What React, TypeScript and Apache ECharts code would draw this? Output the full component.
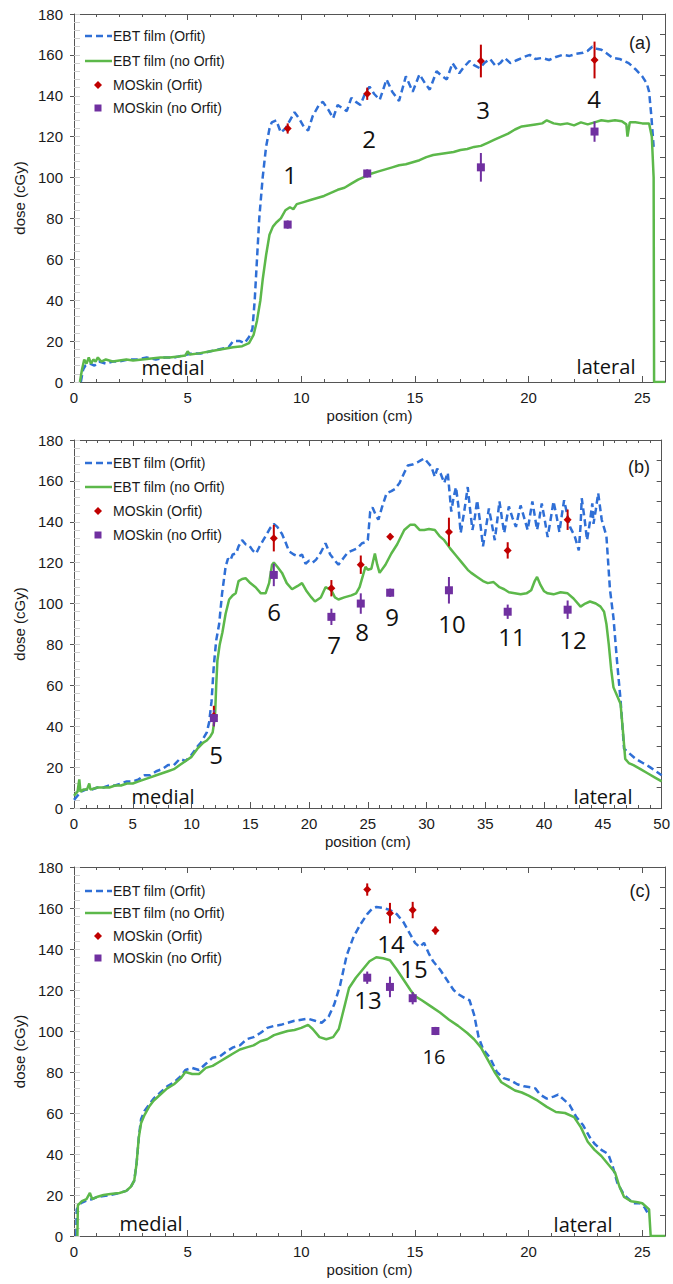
import React, { useEffect, useRef } from "react";
import * as echarts from "echarts";

type Pt = [number, number];

// ---------- Panel (a) ----------
const aFilmOrfit: Pt[] = [
  [0.3, 0], [0.4, 6], [0.5, 8], [0.7, 9], [0.9, 8], [1.1, 10], [1.4, 9], [1.7, 10], [2.0, 10], [2.4, 11],
  [2.8, 11], [3.2, 12], [3.6, 11], [4.0, 12], [4.4, 12], [4.8, 13], [5.2, 14], [5.6, 14], [6.0, 15], [6.4, 16],
  [6.8, 17], [7.0, 20], [7.3, 20], [7.5, 19], [7.7, 22], [7.85, 26], [7.95, 40], [8.05, 60], [8.15, 80], [8.3, 100],
  [8.45, 115], [8.6, 124], [8.7, 127], [8.9, 128], [9.1, 122], [9.3, 124], [9.5, 128], [9.7, 132], [9.9, 129], [10.1, 125],
  [10.3, 123], [10.5, 130], [10.8, 136], [10.95, 137], [11.2, 133], [11.4, 129], [11.6, 135.5], [11.8, 134], [12.0, 132.5], [12.2, 139],
  [12.4, 137], [12.6, 135.5], [12.8, 141], [13.0, 144.5], [13.2, 141], [13.45, 138], [13.75, 148], [14.0, 142], [14.3, 137.5], [14.6, 149.5],
  [14.9, 142], [15.2, 150.5], [15.45, 146], [15.65, 143], [15.95, 152], [16.15, 150], [16.4, 148], [16.65, 156], [16.95, 151], [17.15, 154],
  [17.4, 157], [17.6, 155], [17.85, 153.5], [18.05, 156], [18.3, 158], [18.55, 154.5], [18.75, 156], [18.95, 158.5], [19.2, 156], [19.5, 157.5],
  [19.8, 159], [20.05, 160], [20.3, 158], [20.6, 158.5], [20.9, 157.5], [21.2, 159], [21.5, 160], [21.8, 159.5], [22.1, 160.5], [22.4, 161],
  [22.6, 162], [22.8, 164], [23.0, 163], [23.2, 162.5], [23.4, 161], [23.7, 158.5], [24.0, 158], [24.4, 156], [24.7, 153], [25.0, 149.5],
  [25.2, 146], [25.3, 142], [25.4, 130], [25.5, 115]
];
const aFilmNoOrfit: Pt[] = [
  [0.26, 0], [0.35, 6], [0.45, 11], [0.55, 9], [0.65, 12], [0.75, 9], [0.85, 11], [0.95, 10], [1.05, 12], [1.2, 10],
  [1.4, 11], [1.7, 10], [2.0, 10.5], [2.3, 11], [2.6, 10.5], [3.0, 11], [3.4, 11.5], [3.8, 12], [4.2, 12], [4.6, 12.5],
  [4.9, 13], [5.0, 15], [5.1, 13.5], [5.5, 14], [6.0, 15], [6.5, 16], [7.0, 17], [7.4, 17.5], [7.7, 19], [7.9, 23],
  [8.05, 30], [8.2, 40], [8.3, 50], [8.45, 62], [8.6, 72], [8.75, 76], [8.9, 78], [9.1, 80], [9.3, 84], [9.5, 85.5],
  [9.65, 84.5], [9.8, 87], [10.1, 88], [10.4, 89], [10.7, 90], [11.0, 91], [11.3, 92.5], [11.6, 94], [11.9, 95], [12.2, 97],
  [12.5, 99], [12.8, 100.5], [13.1, 102], [13.4, 103], [13.7, 104], [14.0, 105], [14.3, 106], [14.6, 106.5], [14.9, 107.5], [15.2, 108.5],
  [15.5, 110], [15.8, 111], [16.1, 111.5], [16.4, 112], [16.7, 112.5], [17.0, 113.5], [17.3, 114], [17.6, 115], [17.9, 115.5], [18.2, 117],
  [18.5, 118.5], [18.8, 120], [19.1, 121.5], [19.4, 123.5], [19.7, 125], [20.0, 125.5], [20.3, 126], [20.6, 126.5], [20.8, 128], [21.1, 126.5],
  [21.4, 126], [21.7, 126.5], [22.0, 125.5], [22.3, 127], [22.6, 126], [22.9, 127], [23.2, 128], [23.5, 127.5], [23.8, 128], [24.1, 127.5],
  [24.3, 126], [24.35, 120], [24.45, 127], [24.7, 127], [25.0, 126.5], [25.3, 126.5], [25.42, 120], [25.5, 100], [25.52, 0], [26, 0]
];
const aMosX = [9.4, 12.9, 17.9, 22.9];
const aMosOrfit = [124, 141, 157, 157.5];
const aMosOrfitErr = [2.5, 3, 8, 9];
const aMosNoOrfit = [77, 102, 105, 122.5];
const aMosNoOrfitErr = [2, 2, 7, 5];

// ---------- Panel (b) ----------
const bFilmOrfit: Pt[] = [
  [0, 4], [0.3, 6], [0.6, 8], [1.0, 9], [1.5, 9], [2.0, 10], [2.5, 10], [3.0, 11], [3.5, 11], [4.0, 12],
  [4.5, 13], [5.0, 13], [5.5, 14], [6.0, 16], [6.5, 16], [7.0, 18], [7.5, 19], [8.0, 21], [8.5, 21], [9.0, 24],
  [9.5, 23], [10.0, 26], [10.5, 30], [10.8, 32], [11.0, 34], [11.3, 37], [11.5, 42], [11.7, 52], [11.9, 70], [12.1, 82],
  [12.35, 90], [12.6, 105], [12.9, 118], [13.1, 122], [13.3, 121], [13.5, 124], [13.8, 124.5], [14.0, 128], [14.3, 131], [14.6, 129],
  [14.9, 128.5], [15.2, 126], [15.5, 124.5], [15.8, 128], [16.1, 131], [16.4, 134], [16.7, 137], [17.0, 139], [17.3, 137.5], [17.7, 134],
  [18.0, 130], [18.3, 125.5], [18.7, 124], [19.1, 123], [19.4, 124], [19.7, 119.5], [20.0, 121], [20.3, 120], [20.6, 121.5], [21.0, 125],
  [21.4, 129.5], [21.8, 124], [22.2, 121], [22.5, 119], [22.9, 122], [23.3, 125], [23.7, 126], [24.1, 127], [24.5, 129.5], [24.8, 130],
  [25.0, 131], [25.2, 145], [25.4, 147], [25.7, 143], [25.9, 141], [26.2, 147], [26.6, 154], [27.0, 155], [27.3, 156], [27.7, 159],
  [28.1, 164], [28.4, 167.5], [28.8, 168], [29.2, 169], [29.5, 170], [29.8, 171], [30.1, 169], [30.4, 167], [30.7, 162], [30.9, 166],
  [31.2, 163.5], [31.5, 159], [31.8, 164], [32.1, 145], [32.3, 152], [32.5, 157], [32.7, 148], [32.9, 134.5], [33.2, 145], [33.5, 157],
  [33.7, 146], [33.9, 136], [34.1, 142], [34.3, 150.5], [34.55, 140], [34.8, 128], [35.05, 137], [35.3, 146.5], [35.55, 139], [35.8, 131],
  [36.0, 140], [36.2, 150], [36.4, 142], [36.6, 134.5], [36.8, 141], [37.0, 147.5], [37.3, 142], [37.6, 137.5], [37.8, 143], [38.0, 148],
  [38.3, 142], [38.6, 136], [38.8, 143], [39.0, 150], [39.2, 143], [39.4, 136], [39.6, 142], [39.8, 149], [40.05, 141], [40.3, 132.5],
  [40.55, 141], [40.8, 150], [41.05, 143], [41.3, 135], [41.5, 143], [41.7, 150.5], [41.95, 144], [42.2, 137.5], [42.6, 133], [42.95, 126],
  [43.1, 138], [43.2, 151.5], [43.45, 141], [43.65, 131], [43.9, 140], [44.1, 149], [44.2, 139], [44.4, 146], [44.6, 154], [44.9, 141],
  [45.3, 133], [45.6, 107], [45.9, 93], [46.2, 72], [46.5, 53], [46.8, 29], [47.2, 27], [47.8, 24], [48.4, 22], [49.0, 20],
  [49.5, 18], [50, 16]
];
const bFilmNoOrfit: Pt[] = [
  [0, 6], [0.3, 8], [0.45, 14], [0.55, 8], [0.8, 9], [1.1, 9], [1.3, 12], [1.4, 9], [2.0, 10], [2.5, 10],
  [3.0, 10], [3.5, 11], [4.0, 11], [4.5, 12], [5.0, 12], [5.5, 13], [6.0, 14], [6.5, 15], [7.0, 16], [7.5, 17],
  [8.0, 18], [8.5, 19], [9.0, 21], [9.5, 23], [10.0, 25], [10.5, 29], [11.0, 32], [11.3, 33], [11.6, 35], [11.8, 37],
  [12.0, 45], [12.1, 60], [12.2, 72], [12.4, 80], [12.63, 86], [12.9, 95], [13.2, 102], [13.5, 104], [13.76, 105], [14.0, 111],
  [14.3, 112], [14.6, 112.4], [15.0, 110], [15.45, 108], [15.9, 105], [16.3, 105], [16.6, 110], [16.85, 119], [17.0, 120], [17.3, 118],
  [17.7, 115], [18.1, 110], [18.55, 107], [19.0, 108.5], [19.4, 110], [19.8, 106], [20.2, 103], [20.5, 101], [21.0, 103], [21.4, 108],
  [21.9, 106.5], [22.2, 103], [22.5, 102], [23.0, 103], [23.6, 104], [24.0, 105], [24.3, 108], [24.6, 114], [24.8, 118], [25.0, 116.5],
  [25.3, 117], [25.6, 124.5], [25.8, 119], [26.0, 115], [26.5, 119], [27.0, 124.5], [27.5, 129], [28.1, 136], [28.6, 138.5], [29.0, 138.5],
  [29.4, 136], [29.8, 136], [30.2, 136.5], [30.7, 136], [31.1, 133], [31.5, 131], [32.0, 127], [32.5, 123.5], [33.0, 120], [33.5, 116.5],
  [33.8, 115], [34.3, 113], [34.8, 111], [35.2, 110], [35.7, 110.5], [36.2, 108], [36.6, 107], [37.0, 105.5], [37.5, 105], [38.0, 104.5],
  [38.5, 105], [38.9, 106.5], [39.2, 111], [39.4, 113], [39.7, 109], [40.0, 106], [40.3, 105], [40.8, 104.5], [41.4, 105.5], [42.0, 105],
  [42.5, 102.5], [43.1, 98.5], [43.5, 100], [43.9, 101], [44.4, 100], [44.8, 98.5], [45.1, 96], [45.3, 90], [45.5, 80], [45.7, 68],
  [45.9, 59], [46.2, 55], [46.5, 51], [46.7, 38], [46.9, 24], [47.2, 22], [47.6, 21], [48.2, 19], [48.8, 17], [49.4, 15],
  [50, 13]
];
const bMosX = [11.9, 17.0, 21.9, 24.4, 26.9, 31.9, 36.9, 42.0];
const bMosOrfit = [45, 132, 107.5, 119, 132.7, 135, 126, 141];
const bMosOrfitErr = [5, 6.5, 4, 4.5, 1.5, 7, 4, 5];
const bMosNoOrfit = [44, 114, 93.5, 100, 105.3, 106.5, 96, 97];
const bMosNoOrfitErr = [4, 5.5, 4, 5, 2, 6.5, 3.5, 4.5];

// ---------- Panel (c) ----------
const cFilmOrfit: Pt[] = [
  [0.1, 0], [0.12, 13], [0.3, 16], [0.5, 17], [0.8, 18], [1.0, 19], [1.3, 19.5], [1.6, 20], [2.0, 21], [2.3, 22],
  [2.5, 24], [2.65, 27], [2.75, 35], [2.85, 48], [2.95, 57], [3.1, 61], [3.3, 64], [3.5, 67], [3.8, 70], [4.1, 73],
  [4.4, 75], [4.7, 78], [4.9, 81], [5.2, 82], [5.5, 81], [5.8, 84], [6.1, 87], [6.4, 87.5], [6.7, 90], [7.0, 92],
  [7.3, 93], [7.6, 96], [7.9, 97], [8.2, 99], [8.5, 101.5], [8.8, 102.5], [9.1, 103], [9.4, 104], [9.7, 105], [10.0, 105.5],
  [10.3, 106], [10.6, 105], [10.9, 104], [11.2, 107], [11.45, 113], [11.7, 122], [12.0, 137], [12.3, 146], [12.6, 152], [12.9, 157],
  [13.1, 159.5], [13.3, 160.5], [13.6, 160], [13.9, 159], [14.2, 157], [14.5, 153], [14.8, 147], [15.0, 143], [15.2, 141], [15.4, 143],
  [15.6, 138], [15.8, 134], [16.1, 130], [16.4, 125], [16.7, 120], [16.9, 118], [17.2, 116], [17.4, 115], [17.6, 108], [17.8, 97],
  [18.0, 91], [18.3, 87], [18.6, 80], [18.9, 77], [19.2, 76], [19.5, 74], [19.8, 73], [20.1, 72.5], [20.3, 72], [20.5, 69],
  [20.8, 67], [21.1, 68], [21.3, 69], [21.5, 67], [21.8, 64], [22.1, 58], [22.4, 54], [22.7, 48], [22.9, 45], [23.2, 42],
  [23.5, 40], [23.7, 34], [23.9, 26], [24.2, 20], [24.6, 16], [24.9, 16], [25.1, 14], [25.25, 11]
];
const cFilmNoOrfit: Pt[] = [
  [0.15, 0], [0.17, 15], [0.35, 17], [0.55, 18], [0.7, 21], [0.8, 18], [1.0, 19], [1.3, 20], [1.6, 20.5], [2.0, 21],
  [2.3, 22], [2.5, 24], [2.65, 27], [2.75, 35], [2.85, 48], [2.95, 55], [3.1, 59], [3.3, 63], [3.5, 66], [3.8, 69],
  [4.1, 72], [4.4, 74], [4.7, 77], [4.9, 80], [5.2, 79], [5.5, 79], [5.8, 82], [6.1, 83], [6.4, 85], [6.7, 87],
  [7.0, 89], [7.3, 91], [7.6, 92], [7.9, 93], [8.2, 95], [8.5, 96], [8.8, 98], [9.1, 99], [9.4, 100], [9.7, 100.5],
  [10.0, 101.5], [10.3, 103], [10.5, 101], [10.8, 97], [11.1, 96], [11.4, 97], [11.65, 101], [11.9, 112], [12.1, 121], [12.4, 126],
  [12.7, 130], [13.0, 134], [13.3, 136], [13.6, 135.5], [13.9, 134.5], [14.2, 130], [14.5, 125], [14.8, 120], [15.0, 117], [15.3, 115],
  [15.7, 112], [16.1, 109], [16.5, 105.5], [16.9, 102.5], [17.3, 99], [17.6, 96], [17.9, 92], [18.2, 86], [18.5, 80], [18.8, 75],
  [19.1, 73], [19.4, 71], [19.7, 70], [20.0, 68.5], [20.4, 66], [20.8, 63], [21.2, 60.5], [21.6, 60], [22.0, 58], [22.3, 53],
  [22.6, 46], [22.9, 42], [23.2, 39], [23.5, 35], [23.8, 31], [24.0, 24], [24.2, 19], [24.5, 17], [24.8, 16.5], [25.0, 16],
  [25.3, 13], [25.37, 0], [26, 0]
];
const cMosX = [12.9, 13.9, 14.9, 15.9];
const cMosOrfit = [169, 157.5, 159, 149];
const cMosOrfitErr = [3, 5, 4, 2];
const cMosNoOrfit = [126, 121.5, 116, 100];
const cMosNoOrfitErr = [3, 5, 3, 2];

// ---------- texts ----------
const seriesNames = ["EBT film (Orfit)", "EBT film (no Orfit)", "MOSkin (Orfit)", "MOSkin (no Orfit)"];
const panelTags = ["(a)", "(b)", "(c)"];
const xAxisTitle = "position (cm)";
const yAxisTitle = "dose (cGy)";
const sideLabels = ["medial", "lateral"];
const aPointLabels = ["1", "2", "3", "4"];
const bPointLabels = ["5", "6", "7", "8", "9", "10", "11", "12"];
const cPointLabels = ["13", "14", "15", "16"];

const BLUE = "#2f6fd6";
const GREEN = "#5cb84a";
const RED = "#c00000";
const PURPLE = "#7030a0";
const AXIS = "#555";
const TXT = "#1a1a1a";
const SANS = "'Liberation Sans', Arial, sans-serif";
const OPEN = "'Open Sans', sans-serif";

interface PanelDef {
  top: number;
  height: number;
  xMax: number;
  blue: Pt[];
  green: Pt[];
  mx: number[];
  mo: number[];
  moe: number[];
  mn: number[];
  mne: number[];
}

const panels: PanelDef[] = [
  { top: 14, height: 368, xMax: 26, blue: aFilmOrfit, green: aFilmNoOrfit, mx: aMosX, mo: aMosOrfit, moe: aMosOrfitErr, mn: aMosNoOrfit, mne: aMosNoOrfitErr },
  { top: 440, height: 368, xMax: 50, blue: bFilmOrfit, green: bFilmNoOrfit, mx: bMosX, mo: bMosOrfit, moe: bMosOrfitErr, mn: bMosNoOrfit, mne: bMosNoOrfitErr },
  { top: 867, height: 369, xMax: 26, blue: cFilmOrfit, green: cFilmNoOrfit, mx: cMosX, mo: cMosOrfit, moe: cMosOrfitErr, mn: cMosNoOrfit, mne: cMosNoOrfitErr },
];

// annotation layout (pixel centres)
const pointLabelPos: { text: string; x: number; y: number; size: number }[] = [
  { text: aPointLabels[0], x: 290, y: 174, size: 24 },
  { text: aPointLabels[1], x: 369, y: 138, size: 24 },
  { text: aPointLabels[2], x: 483, y: 109, size: 24 },
  { text: aPointLabels[3], x: 594, y: 98, size: 24 },
  { text: bPointLabels[0], x: 216, y: 754, size: 24 },
  { text: bPointLabels[1], x: 274, y: 611, size: 24 },
  { text: bPointLabels[2], x: 334, y: 644, size: 24 },
  { text: bPointLabels[3], x: 362, y: 631, size: 24 },
  { text: bPointLabels[4], x: 392, y: 616, size: 24 },
  { text: bPointLabels[5], x: 452, y: 623, size: 24 },
  { text: bPointLabels[6], x: 512, y: 636, size: 24 },
  { text: bPointLabels[7], x: 573, y: 639, size: 24 },
  { text: cPointLabels[0], x: 368, y: 999, size: 24 },
  { text: cPointLabels[1], x: 391, y: 943, size: 24 },
  { text: cPointLabels[2], x: 414, y: 968, size: 24 },
  { text: cPointLabels[3], x: 434, y: 1056, size: 20 },
];
const sidePos = [
  [173, 367, 606, 366],
  [163, 796, 603, 796],
  [151, 1223, 583, 1224],
];
const tagPos = [[640, 43], [639, 467], [640, 891]];
const legendRows = [
  [36, 61, 85, 108],
  [463, 487, 511, 535],
  [891, 913, 936, 958],
];

function errorBars(xs: number[], ys: number[], es: number[], color: string, xi: number, yi: number) {
  return {
    type: "custom",
    xAxisIndex: xi,
    yAxisIndex: yi,
    silent: true,
    z: 3,
    data: xs.map((x, k) => [x, ys[k] - es[k], ys[k] + es[k]]),
    encode: { x: 0, y: [1, 2] },
    renderItem: (_p: any, api: any) => {
      const a = api.coord([api.value(0), api.value(1)]);
      const b = api.coord([api.value(0), api.value(2)]);
      return {
        type: "line",
        shape: { x1: a[0], y1: a[1], x2: b[0], y2: b[1] },
        style: { stroke: color, lineWidth: 2 },
      };
    },
  };
}

function buildOption() {
  const grid: any[] = [];
  const xAxis: any[] = [];
  const yAxis: any[] = [];
  const series: any[] = [];
  const graphic: any[] = [];

  panels.forEach((p, i) => {
    grid.push({ left: 74, right: 8, top: p.top, height: p.height, containLabel: false });
    const xBase = {
      type: "value",
      gridIndex: i,
      min: 0,
      max: p.xMax,
      splitLine: { show: false },
      axisLine: { onZero: false, lineStyle: { color: AXIS, width: 1 } },
    };
    xAxis.push({
      ...xBase,
      position: "bottom",
      interval: 5,
      axisTick: { inside: true, length: 6, lineStyle: { color: AXIS } },
      axisLabel: {
        color: TXT,
        fontSize: 15,
        fontFamily: SANS,
        margin: 8,
        formatter: (v: number) => (v % 5 === 0 ? String(v) : ""),
      },
      name: xAxisTitle,
      nameLocation: "middle",
      nameGap: 26,
      nameTextStyle: { color: TXT, fontSize: 15, fontFamily: SANS },
    });
    xAxis.push({
      ...xBase,
      position: "bottom",
      interval: 1,
      axisLine: { show: false, onZero: false },
      axisTick: { inside: true, length: 3, lineStyle: { color: AXIS } },
      axisLabel: { show: false },
    });
    xAxis.push({
      ...xBase,
      position: "top",
      interval: 5,
      axisTick: { inside: true, length: 6, lineStyle: { color: AXIS } },
      axisLabel: { show: false },
    });
    xAxis.push({
      ...xBase,
      position: "top",
      interval: 1,
      axisLine: { show: false, onZero: false },
      axisTick: { inside: true, length: 3, lineStyle: { color: AXIS } },
      axisLabel: { show: false },
    });

    const yBase = {
      type: "value",
      gridIndex: i,
      min: 0,
      max: 180,
      splitLine: { show: false },
      axisLine: { onZero: false, lineStyle: { color: AXIS, width: 1 } },
    };
    yAxis.push({
      ...yBase,
      position: "left",
      interval: 20,
      axisTick: { inside: false, length: 4, lineStyle: { color: AXIS } },
      axisLabel: { color: TXT, fontSize: 15, fontFamily: SANS, margin: 11 },
      name: yAxisTitle,
      nameLocation: "middle",
      nameGap: 45,
      nameTextStyle: { color: TXT, fontSize: 15, fontFamily: SANS },
    });
    yAxis.push({
      ...yBase,
      position: "left",
      interval: 4,
      axisLine: { show: false, onZero: false },
      axisTick: { inside: true, length: 6, lineStyle: { color: "#cfcfcf" } },
      axisLabel: { show: false },
    });
    yAxis.push({
      ...yBase,
      position: "right",
      interval: 10,
      axisTick: { inside: true, length: 5, lineStyle: { color: AXIS } },
      axisLabel: { show: false },
    });

    const xi = i * 4;
    const yi = i * 3;
    series.push({
      name: seriesNames[0],
      type: "line",
      xAxisIndex: xi,
      yAxisIndex: yi,
      data: p.blue,
      symbol: "none",
      showSymbol: false,
      z: 2,
      lineStyle: { color: BLUE, width: 2.5, type: [7, 4] },
      itemStyle: { color: BLUE },
    });
    series.push({
      name: seriesNames[1],
      type: "line",
      xAxisIndex: xi,
      yAxisIndex: yi,
      data: p.green,
      symbol: "none",
      showSymbol: false,
      z: 2,
      lineStyle: { color: GREEN, width: 2.5 },
      itemStyle: { color: GREEN },
    });
    series.push(errorBars(p.mx, p.mo, p.moe, RED, xi, yi));
    series.push(errorBars(p.mx, p.mn, p.mne, PURPLE, xi, yi));
    series.push({
      name: seriesNames[2],
      type: "scatter",
      xAxisIndex: xi,
      yAxisIndex: yi,
      symbol: "diamond",
      symbolSize: 8,
      z: 4,
      itemStyle: { color: RED, opacity: 1 },
      data: p.mx.map((x, k) => [x, p.mo[k]]),
    });
    series.push({
      name: seriesNames[3],
      type: "scatter",
      xAxisIndex: xi,
      yAxisIndex: yi,
      symbol: "rect",
      symbolSize: 8,
      z: 4,
      itemStyle: { color: PURPLE, opacity: 1 },
      data: p.mx.map((x, k) => [x, p.mn[k]]),
    });

    const rows = legendRows[i];
    graphic.push({
      type: "line",
      shape: { x1: 85, y1: rows[0], x2: 112, y2: rows[0] },
      style: { stroke: BLUE, lineWidth: 2.5, lineDash: [7, 4] },
    });
    graphic.push({
      type: "line",
      shape: { x1: 85, y1: rows[1], x2: 112, y2: rows[1] },
      style: { stroke: GREEN, lineWidth: 2.5 },
    });
    graphic.push({
      type: "polygon",
      shape: { points: [[98, rows[2] - 4], [102, rows[2]], [98, rows[2] + 4], [94, rows[2]]] },
      style: { fill: RED },
    });
    graphic.push({
      type: "rect",
      shape: { x: 94.5, y: rows[3] - 3.5, width: 7, height: 7 },
      style: { fill: PURPLE },
    });
    rows.forEach((ry, k) => {
      graphic.push({
        type: "text",
        x: 113,
        y: ry,
        style: { text: seriesNames[k], fill: TXT, fontSize: 14, fontFamily: SANS, align: "left", verticalAlign: "middle" },
      });
    });

    graphic.push({
      type: "text",
      x: tagPos[i][0],
      y: tagPos[i][1],
      style: { text: panelTags[i], fill: TXT, fontSize: 18, fontFamily: SANS, align: "center", verticalAlign: "middle" },
    });
    const sp = sidePos[i];
    graphic.push({
      type: "text",
      x: sp[0],
      y: sp[1],
      style: { text: sideLabels[0], fill: "#111", fontSize: 20, fontFamily: OPEN, align: "center", verticalAlign: "middle" },
    });
    graphic.push({
      type: "text",
      x: sp[2],
      y: sp[3],
      style: { text: sideLabels[1], fill: "#111", fontSize: 20, fontFamily: OPEN, align: "center", verticalAlign: "middle" },
    });
  });

  pointLabelPos.forEach((l) => {
    graphic.push({
      type: "text",
      x: l.x,
      y: l.y,
      style: { text: l.text, fill: "#111", fontSize: l.size, fontFamily: OPEN, align: "center", verticalAlign: "middle" },
    });
  });

  return {
    animation: false,
    backgroundColor: "#ffffff",
    grid,
    xAxis,
    yAxis,
    series,
    graphic,
  };
}

export default function App() {
  const ref = useRef<HTMLDivElement>(null);
  useEffect(() => {
    document.body.style.margin = "0";
    if (!ref.current) return;
    const chart = echarts.init(ref.current, undefined, { renderer: "svg" });
    chart.setOption(buildOption() as any);
    return () => chart.dispose();
  }, []);
  return <div ref={ref} style={{ width: 673, height: 1284 }} />;
}
